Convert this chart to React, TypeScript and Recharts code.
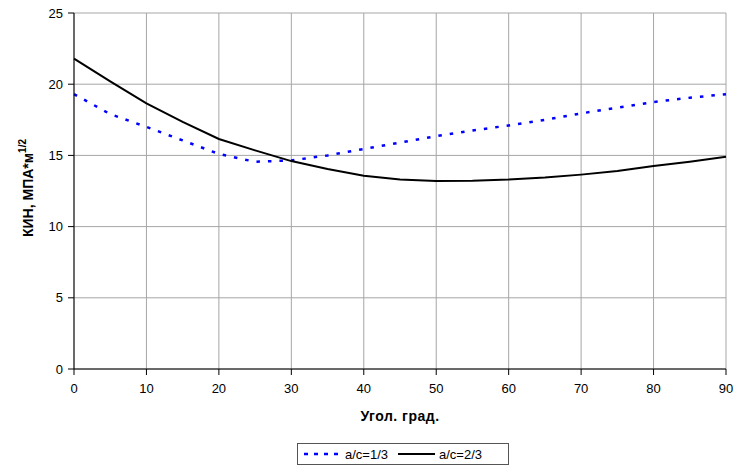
import { LineChart, Line, XAxis, YAxis, CartesianGrid, Label } from "recharts";

// angle, degrees
const angles = [0, 5, 10, 15, 20, 25, 30, 35, 40, 45, 50, 55, 60, 65, 70, 75, 80, 85, 90];
// КИН for a/c = 1/3
const kinOneThird = [19.3, 17.9, 17.0, 16.05, 15.1, 14.55, 14.65, 15.0, 15.45, 15.9, 16.35, 16.75, 17.1, 17.5, 17.95, 18.35, 18.75, 19.05, 19.3];
// КИН for a/c = 2/3
const kinTwoThirds = [21.8, 20.2, 18.65, 17.35, 16.15, 15.35, 14.6, 14.05, 13.57, 13.3, 13.2, 13.22, 13.3, 13.44, 13.65, 13.9, 14.25, 14.56, 14.9];

const xTicks = [0, 10, 20, 30, 40, 50, 60, 70, 80, 90];
const yTicks = [0, 5, 10, 15, 20, 25];

const seriesNames = ["a/c=1/3", "a/c=2/3"];

const data = angles.map((angle, i) => ({
  angle,
  oneThird: kinOneThird[i],
  twoThirds: kinTwoThirds[i],
}));

const FONT = "'Liberation Sans', Arial, sans-serif";

// rotated y label with the 1/2 superscript
const YLabel = (props: any) => {
  const vb = props.viewBox || { x: 0, y: 0, width: 0, height: 0 };
  const cx = vb.x + 33;
  const cy = vb.y + vb.height / 2 - 3;
  return (
    <text
      x={cx}
      y={cy}
      transform={`rotate(-90, ${cx}, ${cy})`}
      textAnchor="middle"
      fontSize={14}
      fontWeight="bold"
      fill="#000"
      style={{ fontFamily: FONT }}
    >
      <tspan>КИН, МПА*м</tspan>
      <tspan fontSize={10} dy={-7}>1/2</tspan>
    </text>
  );
};

export default function App() {
  return (
    <div style={{ position: "relative", width: 734, height: 468, background: "#fff", fontFamily: FONT }}>
      <style>{`body { margin: 0; }`}</style>
      <LineChart
        width={734}
        height={468}
        data={data}
        margin={{ top: 13, right: 8, bottom: 47, left: 0 }}
        style={{ fontFamily: FONT }}
      >
        <CartesianGrid stroke="#a6a6a6" strokeWidth={1} />
        <XAxis
          dataKey="angle"
          type="number"
          domain={[0, 90]}
          ticks={xTicks}
          interval={0}
          height={52}
          tickSize={6}
          tickMargin={9}
          axisLine={{ stroke: "#000" }}
          tickLine={{ stroke: "#000" }}
          tick={{ fill: "#000", fontSize: 13 }}
        >
          <Label
            value="Угол. град."
            position="insideBottom"
            offset={0}
            style={{ fontSize: 14, fontWeight: "bold", fill: "#000", fontFamily: FONT, letterSpacing: 0.5 }}
          />
        </XAxis>
        <YAxis
          type="number"
          domain={[0, 25]}
          ticks={yTicks}
          interval={0}
          width={74}
          tickSize={6}
          tickMargin={5}
          axisLine={{ stroke: "#000" }}
          tickLine={{ stroke: "#000" }}
          tick={{ fill: "#000", fontSize: 13 }}
          label={<YLabel />}
        />
        <Line
          type="linear"
          dataKey="oneThird"
          name={seriesNames[0]}
          stroke="#0000ff"
          strokeWidth={2.5}
          strokeDasharray="3.5 8"
          dot={false}
          isAnimationActive={false}
        />
        <Line
          type="linear"
          dataKey="twoThirds"
          name={seriesNames[1]}
          stroke="#000"
          strokeWidth={2}
          dot={false}
          isAnimationActive={false}
        />
      </LineChart>

      {/* Legend */}
      <div
        style={{
          position: "absolute",
          left: 297,
          top: 443,
          width: 212,
          height: 22,
          border: "1px solid #555",
          display: "flex",
          alignItems: "center",
          fontSize: 13,
          color: "#000",
          boxSizing: "border-box",
        }}
      >
        <svg width={40} height={10} style={{ marginLeft: 5 }}>
          <line x1={1} y1={5} x2={38} y2={5} stroke="#0000ff" strokeWidth={2.5} strokeDasharray="4 6" />
        </svg>
        <span style={{ marginLeft: 2 }}>{seriesNames[0]}</span>
        <svg width={40} height={10} style={{ marginLeft: 9 }}>
          <line x1={1} y1={5} x2={38} y2={5} stroke="#000" strokeWidth={2} />
        </svg>
        <span style={{ marginLeft: 2 }}>{seriesNames[1]}</span>
      </div>
    </div>
  );
}
